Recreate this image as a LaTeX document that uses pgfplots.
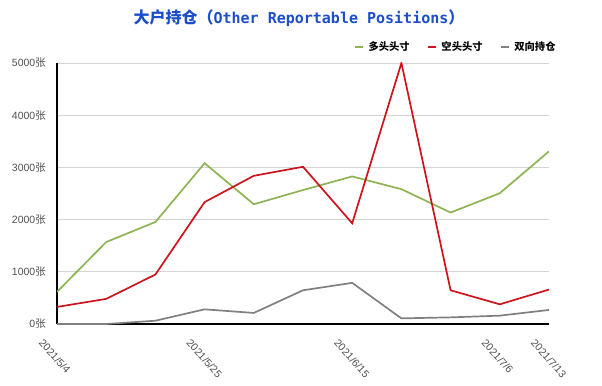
\documentclass[border=0pt]{standalone}
\usepackage{fontspec}
\setmainfont{Liberation Sans}
\newfontfamily\cjk{Noto Sans CJK SC}
\newfontfamily\titlemono{DejaVu Sans Mono}
\usepackage{pgfplots}
\pgfplotsset{compat=1.18}
\definecolor{cgreen}{RGB}{141,180,84}
\definecolor{cred}{RGB}{204,20,28}
\definecolor{cgray}{RGB}{128,128,128}
\definecolor{ctitle}{RGB}{28,78,200}
\definecolor{ctick}{RGB}{80,80,80}
\begin{document}
\begin{tikzpicture}
\begin{axis}[
  name=main,
  anchor=south west, at={(0,0)},
  scale only axis, width=492bp, height=261bp,
  xmin=0, xmax=10, ymin=0, ymax=5000,
  axis x line*=bottom, axis y line*=left,
  axis line style={-, black, line width=1.1bp},
  ymajorgrids, grid style={color=black!17, line width=0.8bp},
  major tick length=0pt, tick style={draw=none},
  ytick={0,1000,2000,3000,4000,5000},
  yticklabels={0{\cjk 张},1000{\cjk 张},2000{\cjk 张},3000{\cjk 张},4000{\cjk 张},5000{\cjk 张}},
  yticklabel style={font=\fontsize{10.5bp}{12bp}\selectfont, text=ctick, anchor=east, inner sep=0pt, xshift=-11bp},
  xtick={0,3,6,9,10},
  xticklabels={2021/5/4,2021/5/25,2021/6/15,2021/7/6,2021/7/13},
  xticklabel style={font=\fontsize{10.5bp}{12bp}\selectfont, text=ctick, inner sep=0pt, xshift=-16bp, yshift=-17bp, rotate=-48, anchor=west},
  legend columns=3,
  legend style={at={(0.604,1.061)}, anchor=west, draw=none, fill=none, inner sep=0pt,
    font=\cjk\bfseries\fontsize{10.3bp}{12bp}\selectfont,
    nodes={inner xsep=4.5bp, inner ysep=0pt},
    /tikz/every even column/.append style={column sep=13bp}},
  legend image code/.code={\draw[#1] (0bp,0bp) -- (8bp,0bp);},
]
\addplot[cgreen, line width=1.7bp] coordinates {
 (0,615) (1,1570) (2,1954) (3,3080) (4,2294) (5,2566) (6,2827) (7,2583) (8,2135) (9,2506) (10,3308)};
\addlegendentry{多头头寸}
\addplot[cred, line width=1.7bp] coordinates {
 (0,327) (1,481) (2,948) (3,2335) (4,2839) (5,3012) (6,1929) (7,5000) (8,646) (9,377) (10,660)};
\addlegendentry{空头头寸}
\addplot[cgray, line width=1.7bp] coordinates {
 (0,0) (1,0) (2,63) (3,281) (4,212) (5,646) (6,788) (7,108) (8,127) (9,160) (10,269)};
\addlegendentry{双向持仓}
\end{axis}
\path[use as bounding box] ([xshift=-57bp,yshift=-62bp]main.south west) rectangle ([xshift=545bp,yshift=324bp]main.south west);
\node[text=ctitle, anchor=center] at ([xshift=242bp,yshift=306bp]main.south west)
  {\fontsize{16bp}{18bp}\selectfont{\cjk\bfseries 大户持仓（}{\titlemono\bfseries\fontsize{15bp}{18bp}\selectfont Other Reportable Positions}{\cjk\bfseries ）}};
\end{tikzpicture}
\end{document}
